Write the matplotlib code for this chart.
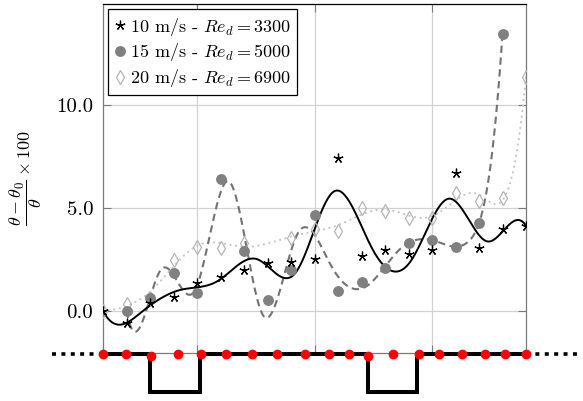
import numpy as np
import matplotlib
matplotlib.use("Agg")
import matplotlib.pyplot as plt
from matplotlib.ticker import FormatStrFormatter

plt.rcParams["font.family"] = "cmr10"
plt.rcParams["mathtext.fontset"] = "cm"
plt.rcParams["axes.formatter.use_mathtext"] = True

# measurement stations (same for the three speeds)
x = np.arange(19)
y10 = [0.0, -0.6, 0.37, 0.69, 1.34, 1.67, 1.99, 2.31, 2.39, 2.52, 7.44, 2.67, 2.96, 2.77, 2.96, 6.68, 3.07, 3.98, 4.13]
y15 = [np.nan, 0.0, 0.61, 1.83, 0.89, 6.41, 2.91, 0.53, 1.99, 4.66, 0.97, 1.39, 2.1, 3.29, 3.45, 3.12, 4.26, 13.46, np.nan]
y20 = [0.0, 0.34, 0.65, 2.48, 3.12, 3.07, 3.29, np.nan, 3.56, 3.96, 3.88, 5.02, 4.85, 4.5, 4.53, 5.71, 5.36, 5.47, 11.37]
labels = [r"10 m/s - $Re_d = 3300$", r"15 m/s - $Re_d = 5000$", r"20 m/s - $Re_d = 6900$"]

# wall geometry below the plot (x in station units)
sensor_x = [0, 0.98, 2.04, 3.19, 4.17, 5.23, 6.34, 7.40, 8.60, 9.62, 10.47, 11.28, 12.34, 13.45, 14.30, 15.28, 16.26, 17.11, 18.0]
sensor_y = [0, 0, -2, 0, 0, 0, 0, 0, 0, 0, 0, -2, 0, 0, 0, 0, 0, 0, 0]
cavity_start = [2.0, 11.28]
cavity_end = [4.13, 13.36]
cavity_depth = 38


def basis(xx, t, k=3):
    # B-spline basis, Cox-de Boor
    xx = np.asarray(xx, float)
    n = len(t) - 1
    B = np.zeros((len(xx), n))
    for j in range(n):
        if t[j] < t[j + 1]:
            B[:, j] = (xx >= t[j]) & (xx < t[j + 1])
    last = np.max(np.nonzero(np.diff(t) > 0))
    B[xx == t[-1], last] = 1.0
    for d in range(1, k + 1):
        Bn = np.zeros((len(xx), n - d))
        for j in range(n - d):
            a = t[j + d] - t[j]
            b = t[j + d + 1] - t[j + 1]
            if a > 0:
                Bn[:, j] += (xx - t[j]) / a * B[:, j]
            if b > 0:
                Bn[:, j] += (t[j + d + 1] - xx) / b * B[:, j + 1]
        B = Bn
    return B


def lsq_spline(xs, ys, nint):
    # least-squares cubic spline with uniform interior knots
    xs = np.asarray(xs, float)
    ys = np.asarray(ys, float)
    m = ~np.isnan(ys)
    xs, ys = xs[m], ys[m]
    a, b = xs[0], xs[-1]
    t = np.r_[[a] * 4, np.linspace(a, b, nint + 2)[1:-1], [b] * 4]
    c = np.linalg.lstsq(basis(xs, t), ys, rcond=None)[0]
    xf = np.linspace(a, b, 400)
    return xf, basis(xf, t) @ c


W, H = 583, 401
fig = plt.figure(figsize=(W / 100, H / 100), dpi=100)
ax = fig.add_axes([103 / W, 1 - 353 / H, 423 / W, 349 / H])

u, v = lsq_spline(x, y20, 8)
ax.plot(u, v, color="#c4c4c4", lw=1.5, ls=(0, (0.1, 2.6)), dash_capstyle="round", zorder=2)
u, v = lsq_spline(x, y15, 10)
ax.plot(u, v, color="#737373", lw=1.5, ls=(0, (3.5, 2.2)), zorder=2)
u, v = lsq_spline(x, y10, 10)
ax.plot(u, v, color="black", lw=1.4, zorder=3)

ax.plot(x, y20, ls="none", marker="d", ms=7.5, mfc="none", mec="#b5b5b5", mew=0.9, label=labels[2], zorder=4)
ax.plot(x, y15, ls="none", marker="o", ms=6.8, color="#808080", label=labels[1], zorder=4)
ax.plot(x, y10, ls="none", marker=(5, 2, 0), ms=7, color="black", mew=0.9, label=labels[0], zorder=5)

ax.set_xlim(0, 18)
ax.set_ylim(-2.04, 14.9)
ax.set_xticks([4, 9, 14])
ax.set_xticklabels([])
ax.set_yticks([0, 5, 10])
ax.yaxis.set_major_formatter(FormatStrFormatter("%.1f"))
ax.tick_params(direction="in", length=6, width=0.8, color="#7a7a7a", top=True, right=True,
               labelsize=15, pad=7)
ax.grid(True, color="#d2d2d2", lw=0.9)
ax.set_axisbelow(True)
for s in ["left", "right", "bottom"]:
    ax.spines[s].set_color("#7a7a7a")
ax.spines["top"].set_color("black")
for s in ax.spines.values():
    s.set_linewidth(0.9)

ax.set_ylabel(r"$\dfrac{\theta-\theta_0}{\theta}\times 100$", fontsize=13)
ax.yaxis.set_label_coords(-0.14, 0.5)

h, l = ax.get_legend_handles_labels()
leg = ax.legend(h[::-1], l[::-1], loc="upper left", fontsize=13, handlelength=0.6,
                handletextpad=0.25, borderpad=0.35, labelspacing=0.2, borderaxespad=0.3,
                fancybox=False, framealpha=1, edgecolor="black")
leg.get_frame().set_linewidth(0.9)

# wall schematic
sx = fig.add_axes([103 / W, 0, 423 / W, 56 / H])
sx.set_xlim(0, 18)
sx.set_ylim(-47, 9)
sx.axis("off")
px, py = [0], [0]
for a, b in zip(cavity_start, cavity_end):
    px += [a, a, b, b]
    py += [0, -cavity_depth, -cavity_depth, 0]
px.append(18)
py.append(0)
sx.plot(px, py, color="black", lw=2.9, solid_joinstyle="miter", zorder=2)
sx.plot([-2.17, 0], [0, 0], color="black", lw=2.6, ls=(0, (1.1, 1.5)), clip_on=False)
sx.plot([18, 20.17], [0, 0], color="black", lw=2.6, ls=(0, (1.1, 1.5)), clip_on=False)
sx.plot(sensor_x, sensor_y, ls="none", marker="o", ms=6, color="red", clip_on=False, zorder=3)

fig.savefig("out.png", dpi=100)
